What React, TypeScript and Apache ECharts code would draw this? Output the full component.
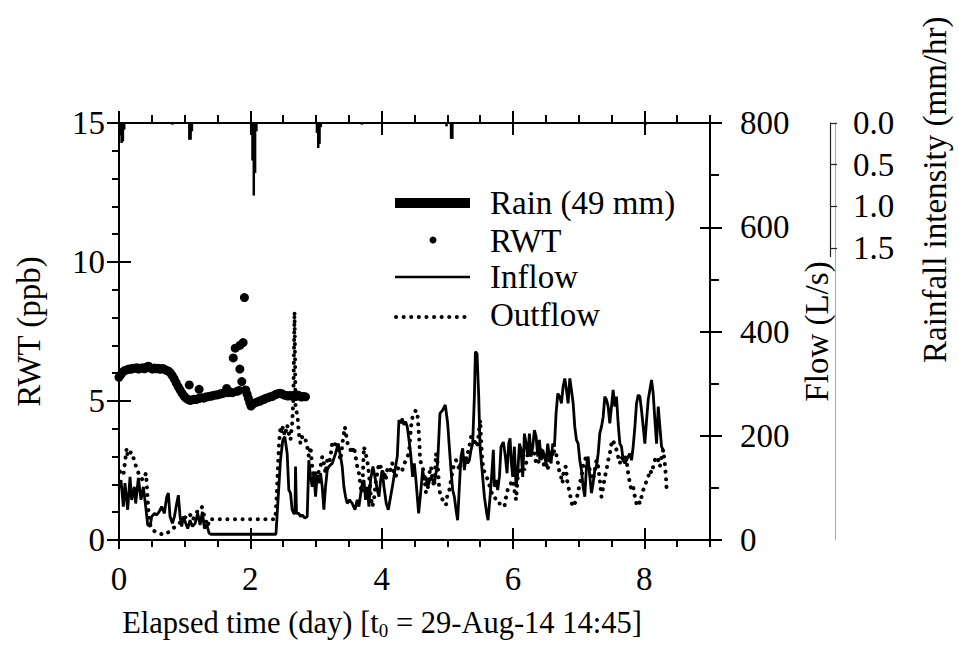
import React, { useEffect, useRef } from 'react';
import * as echarts from 'echarts';

const FONT = '"Liberation Serif", "Times New Roman", Times, serif';
const FS = 33;
const FS_TITLE = 30.5;

const xTickValues = [0, 2, 4, 6, 8];
const rainTickValues = [0, 0.5, 1.0, 1.5];

// Rainfall intensity (mm/hr) bars, [day, mm/hr]
const rain: [number, number][] = [
  [0.02, 0.15], [0.04, 0.24], [0.06, 0.22], [0.08, 0.08],
  [0.82, 0.02],
  [1.08, 0.2], [1.10, 0.2], [1.12, 0.1],
  [2.03, 0.1], [2.05, 0.45], [2.07, 0.87], [2.09, 0.6], [2.11, 0.1],
  [3.04, 0.12], [3.06, 0.3], [3.08, 0.25], [3.10, 0.05],
  [3.73, 0.02],
  [5.03, 0.04], [5.10, 0.19], [5.12, 0.19],
  [8.09, 0.02],
];

// RWT (ppb), [day, ppb]
const rwt: [number, number][] = [
  [0.00, 5.85], [0.03, 5.95], [0.06, 6.05], [0.09, 6.10], [0.12, 6.12], [0.15, 6.15], [0.18, 6.14],
  [0.21, 6.18], [0.24, 6.17], [0.27, 6.20], [0.30, 6.15], [0.33, 6.18], [0.36, 6.20], [0.39, 6.16],
  [0.42, 6.22], [0.45, 6.25], [0.48, 6.18], [0.51, 6.15], [0.54, 6.19], [0.57, 6.16], [0.60, 6.18],
  [0.63, 6.14], [0.66, 6.17], [0.69, 6.15], [0.72, 6.10], [0.75, 6.08], [0.78, 6.02], [0.81, 5.92],
  [0.84, 5.80], [0.87, 5.66], [0.90, 5.52], [0.93, 5.40], [0.96, 5.28], [0.99, 5.18], [1.02, 5.10],
  [1.05, 5.06], [1.07, 5.58], [1.08, 5.02], [1.11, 5.04], [1.14, 5.06], [1.17, 5.05], [1.20, 5.08],
  [1.22, 5.42], [1.23, 5.10], [1.26, 5.12], [1.29, 5.10], [1.32, 5.14], [1.35, 5.15], [1.38, 5.17],
  [1.41, 5.18], [1.44, 5.20], [1.47, 5.22], [1.50, 5.22], [1.53, 5.25], [1.56, 5.26], [1.59, 5.28],
  [1.62, 5.30], [1.64, 5.45], [1.67, 5.30], [1.70, 5.32], [1.73, 5.30], [1.74, 6.55], [1.77, 6.90],
  [1.80, 5.35], [1.83, 5.38], [1.84, 7.00], [1.84, 6.15], [1.87, 5.70], [1.89, 7.10], [1.91, 8.72],
  [1.93, 5.40], [1.95, 5.25], [1.97, 5.10], [1.99, 4.95], [2.01, 4.82], [2.03, 4.88], [2.06, 4.92],
  [2.09, 4.95], [2.12, 4.98], [2.15, 5.00], [2.18, 5.04], [2.21, 5.06], [2.24, 5.10], [2.27, 5.12],
  [2.30, 5.15], [2.33, 5.16], [2.36, 5.20], [2.39, 5.24], [2.42, 5.26], [2.45, 5.28], [2.48, 5.26],
  [2.51, 5.22], [2.54, 5.20], [2.57, 5.18], [2.60, 5.20], [2.63, 5.18], [2.66, 5.20], [2.69, 5.16],
  [2.72, 5.22], [2.75, 5.18], [2.78, 5.14], [2.81, 5.16], [2.84, 5.15],
];

// Inflow (L/s), [day, L/s]
const inflow: [number, number][] = [
  [0.00, 100], [0.03, 115], [0.066, 64], [0.091, 109], [0.132, 58], [0.168, 121], [0.193, 77],
  [0.234, 102], [0.254, 70], [0.295, 119], [0.335, 77], [0.371, 102], [0.407, 64], [0.437, 29],
  [0.473, 26], [0.498, 45], [0.539, 51], [0.574, 48], [0.610, 54], [0.650, 64], [0.691, 51],
  [0.727, 83], [0.752, 90], [0.777, 45], [0.813, 32], [0.844, 45], [0.879, 70], [0.904, 86],
  [0.930, 45], [0.955, 26], [0.980, 45], [1.016, 32], [1.047, 22], [1.082, 38], [1.118, 26],
  [1.159, 32], [1.199, 51], [1.235, 29], [1.270, 54], [1.301, 22], [1.337, 29], [1.372, 13],
  [1.40, 11], [2.39, 11],
  [2.459, 153], [2.495, 192], [2.525, 198], [2.561, 166], [2.586, 96], [2.612, 90], [2.637, 58],
  [2.662, 51], [2.680, 51], [2.688, 141], [2.703, 51], [2.739, 51], [2.764, 45], [2.790, 48],
  [2.830, 42], [2.866, 45], [2.891, 153], [2.917, 121], [2.942, 102], [2.968, 128], [2.993, 83],
  [3.018, 125], [3.044, 109], [3.069, 128], [3.095, 102], [3.120, 58], [3.145, 102], [3.171, 134],
  [3.196, 141], [3.247, 147], [3.298, 166], [3.338, 185], [3.374, 160], [3.399, 141], [3.425, 102],
  [3.450, 83], [3.476, 70], [3.511, 77], [3.552, 70], [3.593, 58], [3.628, 77], [3.654, 64],
  [3.694, 102], [3.730, 115], [3.755, 77], [3.780, 102], [3.806, 64], [3.831, 115], [3.867, 141],
  [3.898, 121], [3.933, 96], [3.959, 83], [3.984, 115], [4.009, 134], [4.035, 102], [4.070, 70],
  [4.101, 58], [4.136, 83], [4.172, 109], [4.202, 134], [4.238, 160], [4.263, 230], [4.289, 224],
  [4.314, 233], [4.339, 221], [4.365, 227], [4.390, 217], [4.416, 192], [4.441, 166],
  [4.471, 121], [4.497, 147], [4.522, 115], [4.563, 51], [4.598, 96], [4.624, 134], [4.649, 115],
  [4.675, 121], [4.700, 102], [4.751, 121], [4.802, 109], [4.852, 147], [4.888, 243], [4.929, 249],
  [4.969, 259], [5.005, 224], [5.030, 179], [5.056, 134], [5.081, 96], [5.107, 83], [5.132, 58],
  [5.157, 38], [5.183, 102], [5.208, 160], [5.234, 176], [5.259, 134], [5.285, 160], [5.310, 147],
  [5.335, 153], [5.361, 173], [5.386, 185], [5.412, 275], [5.427, 361], [5.452, 358], [5.478, 275],
  [5.498, 179], [5.529, 134], [5.564, 83], [5.600, 51], [5.620, 38], [5.651, 83], [5.681, 134],
  [5.701, 173], [5.717, 102], [5.742, 115], [5.767, 96], [5.793, 121], [5.818, 179], [5.853, 188],
  [5.884, 160], [5.909, 128], [5.935, 185], [5.955, 195], [5.976, 147], [5.996, 121], [6.021, 179],
  [6.047, 102], [6.072, 128], [6.098, 185], [6.123, 173], [6.148, 121], [6.174, 204], [6.199, 185],
  [6.225, 160], [6.250, 204], [6.275, 160], [6.301, 179], [6.326, 211], [6.352, 198], [6.377, 160],
  [6.402, 192], [6.428, 153], [6.453, 173], [6.479, 160], [6.504, 147], [6.529, 185], [6.555, 160],
  [6.580, 147], [6.605, 185], [6.631, 179], [6.656, 243], [6.682, 281],
  [6.712, 275], [6.738, 262], [6.763, 294], [6.789, 310], [6.814, 288], [6.839, 262], [6.865, 310],
  [6.890, 288], [6.916, 262], [6.941, 217], [6.966, 192], [6.992, 185], [7.017, 153], [7.043, 134],
  [7.068, 102], [7.093, 83], [7.119, 141], [7.144, 160], [7.170, 121], [7.195, 90], [7.220, 109],
  [7.246, 134], [7.271, 141], [7.297, 166], [7.322, 205], [7.347, 217], [7.373, 236], [7.398, 275],
  [7.424, 269], [7.449, 256], [7.474, 224], [7.500, 256], [7.525, 288], [7.551, 256], [7.576, 275],
  [7.601, 224], [7.627, 185], [7.652, 179], [7.678, 153], [7.703, 147], [7.729, 153], [7.754, 160],
  [7.779, 166], [7.805, 153], [7.830, 179], [7.856, 217], [7.881, 262], [7.906, 278], [7.932, 275],
  [7.957, 249], [7.983, 217], [8.008, 185], [8.034, 230], [8.059, 269], [8.084, 288], [8.110, 307],
  [8.135, 281], [8.161, 230], [8.186, 185], [8.212, 256], [8.237, 217], [8.262, 179], [8.288, 173],
];

// Outflow (L/s), [day, L/s]
const outflow: [number, number][] = [
  [0.015, 131], [0.066, 124], [0.117, 176], [0.132, 160], [0.183, 169], [0.234, 153], [0.259, 141],
  [0.310, 124], [0.361, 115], [0.412, 128], [0.437, 77], [0.462, 32], [0.513, 19], [0.590, 13],
  [0.691, 10], [0.767, 16], [0.818, 22], [0.894, 29], [0.970, 38], [1.021, 45], [1.072, 51],
  [1.123, 38], [1.174, 51], [1.225, 61], [1.260, 64], [1.301, 45], [1.352, 26], [1.377, 40],
  [2.38, 40],
  [2.40, 80], [2.42, 140], [2.44, 190], [2.459, 217], [2.48, 205], [2.495, 217], [2.525, 200],
  [2.561, 221], [2.586, 205], [2.612, 192], [2.637, 224], [2.655, 268], [2.673, 438], [2.688, 256],
  [2.72, 236], [2.739, 205], [2.764, 185], [2.790, 198], [2.810, 196], [2.830, 198], [2.866, 179],
  [2.891, 160], [2.917, 179], [2.942, 141], [2.968, 121], [2.993, 128], [3.018, 115], [3.044, 134],
  [3.069, 141], [3.095, 160], [3.120, 147], [3.145, 128], [3.171, 153], [3.196, 147], [3.221, 160],
  [3.247, 185], [3.272, 179], [3.298, 185], [3.338, 173], [3.374, 153], [3.409, 192], [3.440, 217],
  [3.460, 201], [3.491, 179], [3.526, 173], [3.552, 166], [3.577, 179], [3.603, 160], [3.628, 141],
  [3.654, 128], [3.679, 102], [3.704, 90], [3.730, 179], [3.755, 166], [3.780, 153], [3.806, 128],
  [3.831, 90], [3.857, 64], [3.882, 77], [3.908, 109], [3.933, 128], [3.959, 147], [3.984, 141],
  [4.009, 128], [4.035, 134], [4.060, 115], [4.085, 134], [4.111, 141], [4.136, 134], [4.162, 147],
  [4.187, 128], [4.213, 121], [4.238, 134], [4.263, 141], [4.314, 134], [4.365, 153], [4.416, 166],
  [4.446, 217], [4.471, 237], [4.497, 243], [4.522, 249], [4.548, 237], [4.563, 211], [4.573, 192],
  [4.583, 160], [4.598, 147], [4.624, 141], [4.649, 121], [4.675, 90], [4.700, 96], [4.726, 128],
  [4.751, 141], [4.776, 115], [4.802, 102], [4.827, 166], [4.852, 147], [4.878, 96], [4.903, 83],
  [4.929, 77], [4.954, 70], [4.980, 67], [5.005, 90], [5.030, 96], [5.056, 115], [5.081, 134],
  [5.107, 147], [5.132, 153], [5.157, 147], [5.183, 134], [5.208, 153], [5.234, 160], [5.285, 153],
  [5.335, 179], [5.361, 198], [5.386, 192], [5.412, 192], [5.437, 179], [5.463, 185], [5.488, 217],
  [5.503, 230], [5.513, 192], [5.529, 160], [5.549, 134], [5.580, 128], [5.600, 121], [5.630, 109],
  [5.666, 96], [5.691, 83], [5.717, 83], [5.742, 77], [5.767, 70], [5.818, 70], [5.869, 64],
  [5.904, 90], [5.935, 102], [5.970, 109], [5.996, 115], [6.021, 96], [6.047, 77], [6.072, 121],
  [6.098, 134], [6.123, 128], [6.148, 141], [6.174, 134], [6.199, 147], [6.225, 166], [6.250, 160],
  [6.275, 173], [6.301, 160], [6.326, 166], [6.352, 147], [6.377, 153], [6.402, 147], [6.428, 173],
  [6.453, 153], [6.479, 141], [6.504, 147], [6.529, 134], [6.555, 160], [6.580, 173], [6.605, 160],
  [6.631, 173], [6.656, 166], [6.677, 153], [6.702, 134], [6.722, 128], [6.753, 109], [6.773, 134],
  [6.804, 141], [6.824, 115], [6.844, 102], [6.865, 90], [6.885, 77], [6.905, 64], [6.941, 70],
  [6.976, 83], [6.997, 96], [7.017, 109], [7.043, 121], [7.068, 141], [7.093, 153], [7.119, 160],
  [7.144, 147], [7.170, 134], [7.195, 128], [7.220, 115], [7.246, 134], [7.271, 153], [7.297, 141],
  [7.322, 115], [7.347, 83], [7.373, 102], [7.398, 121], [7.424, 134], [7.449, 153], [7.474, 166],
  [7.500, 185], [7.525, 192], [7.551, 179], [7.576, 173], [7.601, 160], [7.627, 147], [7.652, 160],
  [7.678, 153], [7.703, 160], [7.729, 153], [7.754, 128], [7.779, 109], [7.805, 96], [7.830, 102],
  [7.856, 83], [7.881, 70], [7.906, 77], [7.932, 70], [7.957, 83], [7.983, 96], [8.008, 102],
  [8.034, 115], [8.059, 121], [8.084, 134], [8.110, 128], [8.135, 141], [8.161, 153], [8.186, 160],
  [8.212, 153], [8.237, 141], [8.262, 160], [8.288, 173], [8.31, 150], [8.33, 120], [8.34, 96],
];

const BLACK = '#000';
const lineStyle = { color: BLACK, width: 2 };
const textBase = { fontFamily: FONT, fontSize: FS, color: BLACK };

function xAx(extra: any) {
  return {
    type: 'value', gridIndex: 0, min: 0, max: 9,
    splitLine: { show: false },
    axisLabel: { show: false },
    axisLine: { show: false, onZero: false },
    axisTick: { show: false },
    ...extra,
  };
}

function yAx(extra: any) {
  return {
    type: 'value', gridIndex: 0,
    splitLine: { show: false },
    axisLabel: { show: false },
    axisLine: { show: false, onZero: false },
    axisTick: { show: false },
    ...extra,
  };
}

const legendText = (text: string, y: number) => ({
  type: 'text', x: 490, y,
  style: { text, fontFamily: FONT, fontSize: FS, fill: BLACK, verticalAlign: 'middle' },
});

const option: any = {
  animation: false,
  backgroundColor: '#fff',
  grid: [
    { left: 119, top: 123, width: 591, height: 417 },
    { left: 119, top: 123, width: 591, height: 133.44 },
  ],
  xAxis: [
    xAx({
      position: 'bottom', interval: 2,
      axisLine: { show: true, onZero: false, lineStyle },
      axisTick: { show: true, length: 9, customValues: xTickValues, lineStyle },
      axisLabel: { show: true, customValues: xTickValues, margin: 22, ...textBase },
    }),
    xAx({ position: 'bottom', interval: 0.5, axisTick: { show: true, length: 7, lineStyle } }),
    xAx({ position: 'bottom', interval: 2, axisTick: { show: true, inside: true, length: 12, customValues: xTickValues, lineStyle } }),
    xAx({
      position: 'top', interval: 2,
      axisLine: { show: true, onZero: false, lineStyle },
      axisTick: { show: true, length: 12, customValues: xTickValues, lineStyle },
    }),
    xAx({ position: 'top', interval: 0.5, axisTick: { show: true, length: 8, lineStyle } }),
    xAx({ position: 'top', interval: 2, axisTick: { show: true, inside: true, length: 12, customValues: xTickValues, lineStyle } }),
    { type: 'value', gridIndex: 1, min: 0, max: 9, show: false },
  ],
  yAxis: [
    yAx({
      position: 'left', min: 0, max: 15, interval: 5,
      name: 'RWT (ppb)', nameLocation: 'middle', nameRotate: 90, nameGap: 74,
      nameTextStyle: { ...textBase },
      axisLine: { show: true, onZero: false, lineStyle },
      axisTick: { show: true, length: 12, lineStyle },
      minorTick: { show: true, splitNumber: 5, length: 7, lineStyle },
      axisLabel: { show: true, margin: 14, ...textBase },
    }),
    yAx({ position: 'left', min: 0, max: 15, interval: 5, axisTick: { show: true, inside: true, length: 12, lineStyle } }),
    yAx({
      position: 'right', min: 0, max: 800, interval: 200,
      name: 'Flow (L/s)', nameLocation: 'middle', nameRotate: 90, nameGap: 82,
      nameTextStyle: { ...textBase },
      axisLine: { show: true, onZero: false, lineStyle },
      axisTick: { show: true, length: 12, lineStyle },
      minorTick: { show: true, splitNumber: 2, length: 9, lineStyle },
      axisLabel: { show: true, margin: 30, ...textBase },
    }),
    yAx({ position: 'right', min: 0, max: 800, interval: 200, axisTick: { show: true, inside: true, length: 10, lineStyle } }),
    yAx({
      position: 'right', offset: 125, min: 0, max: 800,
      axisLine: { show: true, onZero: false, lineStyle: { color: '#aaa', width: 1 } },
    }),
    {
      type: 'value', gridIndex: 1, position: 'right', offset: 125, inverse: true,
      min: 0, max: 1.6, interval: 0.5,
      name: 'Rainfall intensity (mm/hr)', nameLocation: 'middle', nameRotate: 90, nameGap: 88,
      nameTextStyle: { ...textBase },
      splitLine: { show: false },
      axisLine: { show: true, onZero: false, lineStyle: { color: '#222', width: 1.2 } },
      axisTick: { show: true, inside: false, length: 7, customValues: rainTickValues, lineStyle: { color: '#222', width: 1.2 } },
      axisLabel: {
        show: true, margin: 23, customValues: rainTickValues, ...textBase,
        formatter: (v: number) => v.toFixed(1),
      },
    },
  ],
  graphic: [
    { type: 'rect', shape: { x: 395, y: 198, width: 75, height: 10 }, style: { fill: BLACK } },
    { type: 'circle', shape: { cx: 433, cy: 240, r: 3.5 }, style: { fill: BLACK } },
    { type: 'line', shape: { x1: 395, y1: 277, x2: 470, y2: 277 }, style: { stroke: BLACK, lineWidth: 2.5 } },
    { type: 'line', shape: { x1: 396, y1: 317, x2: 468, y2: 317 }, style: { stroke: BLACK, lineWidth: 4, lineDash: [0.1, 7.5], lineCap: 'round' } },
    legendText('Rain (49 mm)', 203),
    legendText('RWT', 241),
    legendText('Inflow', 277),
    legendText('Outflow', 315),
    {
      type: 'text', x: 382, y: 623,
      style: {
        text: '{a|Elapsed time (day) [t}{b|0}{a| = 29-Aug-14 14:45]}',
        align: 'center', verticalAlign: 'middle', fill: BLACK,
        rich: {
          a: { fontFamily: FONT, fontSize: FS_TITLE, fill: BLACK },
          b: { fontFamily: FONT, fontSize: 19, fill: BLACK, padding: [14, 0, 0, 0] },
        },
      },
    },
  ],
  series: [
    {
      name: 'Rain (49 mm)', type: 'bar', xAxisIndex: 6, yAxisIndex: 5,
      barWidth: 2.5, data: rain, itemStyle: { color: BLACK, opacity: 1 },
    },
    {
      name: 'RWT', type: 'scatter', xAxisIndex: 0, yAxisIndex: 0,
      symbol: 'circle', symbolSize: 9, data: rwt, itemStyle: { color: BLACK, opacity: 1 },
    },
    {
      name: 'Inflow', type: 'line', xAxisIndex: 0, yAxisIndex: 2,
      showSymbol: false, symbol: 'none', data: inflow,
      lineStyle: { color: BLACK, width: 2.8 },
    },
    {
      name: 'Outflow', type: 'line', xAxisIndex: 0, yAxisIndex: 2,
      showSymbol: false, symbol: 'none', data: outflow,
      lineStyle: { color: BLACK, width: 4, type: [0.1, 7.5], cap: 'round' },
    },
  ],
};

export default function App() {
  const ref = useRef<HTMLDivElement>(null);
  useEffect(() => {
    if (!ref.current) return;
    const chart = echarts.init(ref.current, null, { renderer: 'svg' });
    chart.setOption(option);
    return () => chart.dispose();
  }, []);
  return (
    <div
      ref={ref}
      style={{ position: 'absolute', left: 0, top: 0, width: 959, height: 651, background: '#fff' }}
    />
  );
}
